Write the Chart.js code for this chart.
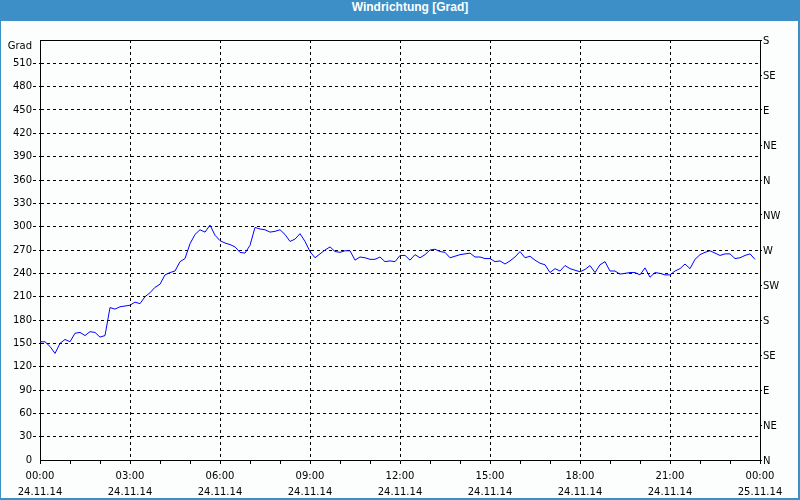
<!DOCTYPE html>
<html>
<head>
<meta charset="utf-8">
<script src="https://cdn.jsdelivr.net/npm/chart.js@4/dist/chart.umd.min.js"></script>
<style>
  html, body { margin: 0; padding: 0; background: #ffffff; }
  #wrap { position: absolute; left: 0; top: 0; width: 800px; height: 500px; background: #3d8fc7; overflow: hidden; }
  #title { position: absolute; left: 20px; top: 0; width: 780px; height: 21px; line-height: 21px; text-align: center; color: #ffffff; font: bold 12px "Liberation Sans", Arial, sans-serif; }
  #panel { position: absolute; left: 1px; top: 21px; width: 797px; height: 477px; background: #fcfefd; }
  canvas { display: block; }
</style>
</head>
<body>
<div id="wrap">
  <div id="title">Windrichtung [Grad]</div>
  <div id="panel"><canvas id="c" width="797" height="477"></canvas></div>
</div>
<script>
// Time axis: hours from 24.11.14 00:00, samples every 10 minutes
const sampleMinutes = 10;
const timeLabels = ['00:00', '03:00', '06:00', '09:00', '12:00', '15:00', '18:00', '21:00', '00:00'];
const dateLabels = ['24.11.14', '24.11.14', '24.11.14', '24.11.14', '24.11.14', '24.11.14', '24.11.14', '24.11.14', '25.11.14'];
const compassLabels = ['N', 'NE', 'E', 'SE', 'S', 'SW', 'W', 'NW', 'N', 'NE', 'E', 'SE', 'S'];
const unitLabel = 'Grad';

// Wind direction in degrees
const windDirection = [
  152, 152, 146, 137, 150, 155, 152, 163, 164, 160, 165, 164, 158, 160, 196, 194,
  197, 198, 199, 203, 201, 210, 215, 222, 226, 238, 241, 243, 255, 259, 278, 290,
  296, 293, 302, 289, 282, 279, 277, 274, 267, 266, 276, 299, 297, 296, 293, 294,
  296, 290, 281, 284, 291, 281, 268, 260, 265, 270, 274, 268, 267, 269, 269, 257,
  261, 260, 258, 258, 261, 255, 256, 255, 263, 263, 257, 264, 260, 264, 270, 271,
  268, 267, 260, 262, 264, 265, 266, 261, 261, 259, 259, 255, 256, 252, 256, 261,
  268, 260, 262, 257, 253, 251, 241, 246, 243, 250, 246, 244, 242, 245, 250, 241,
  251, 255, 243, 243, 239, 240, 241, 241, 238, 247, 235, 241, 240, 238, 238, 243,
  246, 252, 246, 258, 264, 267, 269, 266, 263, 265, 265, 259, 260, 263, 265, 258
];

const points = windDirection.map((v, i) => ({ x: i * sampleMinutes / 60, y: v }));

const FONT = { family: '"DejaVu Sans", Verdana, sans-serif', size: 10, lineHeight: '12px' };
const DASH = [3, 3];

new Chart(document.getElementById('c'), {
  type: 'line',
  data: {
    datasets: [{
      data: points,
      borderColor: '#0000ff',
      borderWidth: 1,
      pointRadius: 0,
      tension: 0,
      fill: false
    }]
  },
  options: {
    responsive: false,
    animation: false,
    devicePixelRatio: 1,
    layout: { padding: { top: 19, left: 0, right: 0, bottom: 0 } },
    plugins: { legend: { display: false }, title: { display: false }, tooltip: { enabled: false } },
    scales: {
      x: {
        type: 'linear', min: 0, max: 24,
        afterFit: s => { s.height = 38; },
        ticks: {
          stepSize: 1, autoSkip: false, maxRotation: 0, color: '#000000', font: { ...FONT, lineHeight: '16px' }, padding: 4,
          callback: v => (v % 3 === 0 ? [timeLabels[v / 3], dateLabels[v / 3]] : '')
        },
        grid: {
          color: c => (c.tick && c.tick.value % 3 === 0 && c.tick.value > 0 && c.tick.value < 24) ? '#000000' : 'rgba(0,0,0,0)',
          lineWidth: 1, tickLength: 4, tickColor: '#000000', tickWidth: 1
        },
        border: { display: true, color: '#000000', width: 1, dash: c => (c.tick ? DASH : []) }
      },
      y: {
        type: 'linear', position: 'left', min: 0, max: 540,
        afterFit: s => { s.width = 39; },
        ticks: {
          stepSize: 30, autoSkip: false, color: '#000000', font: FONT, padding: 1,
          callback: v => (v === 540 ? ['', unitLabel] : String(v))
        },
        grid: {
          color: c => (c.tick && c.tick.value === 0) ? 'rgba(0,0,0,0)' : '#000000',
          lineWidth: 1, tickLength: 7,
          tickColor: c => (c.tick && (c.tick.value === 0 || c.tick.value === 540)) ? 'rgba(0,0,0,0)' : '#000000',
          tickBorderDash: DASH
        },
        border: { display: true, color: '#000000', width: 1, dash: c => (c.tick && c.tick.value !== 540 ? DASH : []) }
      },
      y2: {
        type: 'linear', position: 'right', min: 0, max: 540,
        afterFit: s => { s.width = 38; },
        ticks: {
          stepSize: 45, autoSkip: false, color: '#000000', font: FONT, padding: 1, labelOffset: 1,
          callback: v => compassLabels[Math.round(v / 45)]
        },
        grid: { drawOnChartArea: false, tickLength: 2, tickColor: '#000000' },
        border: { display: true, color: '#000000', width: 1 }
      }
    }
  }
});
</script>
</body>
</html>
